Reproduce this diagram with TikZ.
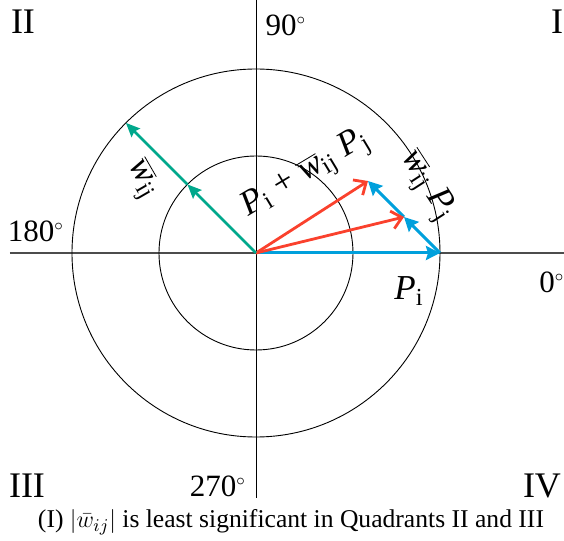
\documentclass[tikz,border=0pt]{standalone}
\usepackage{fontspec}
\setmainfont{Liberation Serif}
\usetikzlibrary{arrows.meta}

\definecolor{vecblue}{RGB}{0,160,220}
\definecolor{vecred}{RGB}{250,65,45}
\definecolor{vecgreen}{RGB}{0,168,140}

\newcommand{\wbar}{$\overline{\mbox{\textit{w}}}$}
\newcommand{\degsign}{$^{\scriptscriptstyle\circ}$}

\begin{document}
\begin{tikzpicture}[
  x=0.5pt, y=0.5pt, >=Stealth, every node/.style={inner sep=0pt},
  axis/.style={draw=black!70, line width=0.75pt},
  ring/.style={draw=black, line width=0.45pt},
  bvec/.style={draw=vecblue, line width=1.5pt,
               -{Stealth[length=7pt, width=7pt, inset=1pt]}},
  rvec/.style={draw=vecred, line width=1.4pt,
               -{Straight Barb[length=5pt, width=9pt]}},
  gvec/.style={draw=vecgreen, line width=1.3pt,
               -{Stealth[length=7pt, width=6pt, inset=1pt]}},
  quad/.style={font=\fontsize{18}{18}\selectfont},
  ang/.style={font=\fontsize{15.5}{15.5}\selectfont},
  lbl/.style={font=\fontsize{17.5}{17.5}\selectfont},
]
\useasboundingbox (-256,-288) rectangle (308,253);

% axes and circles
\coordinate (O) at (0,0);
\draw[axis] (-246,0) -- (308,0);
\draw[ring] (0,253) -- (0,-245);
\draw[ring] (O) circle (184);
\draw[ring] (O) circle (97);

% points of the vectors
\coordinate (Pi) at (184,0);
\coordinate (M) at (148,36);
\coordinate (S) at (112,72);
\coordinate (G1) at (-68.6,68.6);
\coordinate (G2) at (-130.1,130.1);

\draw[bvec] (O) -- (Pi);
\draw[bvec] (Pi) -- (M);
\draw[bvec] (M) -- (S);
\draw[rvec] (O) -- (M);
\draw[rvec] (O) -- (S);
\draw[gvec] (O) -- (G1);
\draw[gvec] (G1) -- (G2);

% vector labels
\node[lbl] (lPi) at (153,-38) {\textit{P}\textsubscript{i}};
\node[lbl, rotate=31] (lsum) at (50,79)
  {\textit{P}\textsubscript{i} + \wbar\textsubscript{ij} \textit{P}\textsubscript{j}};
\node[lbl, rotate=-57] (lwp) at (171,67) {\wbar\textsubscript{ij} \textit{P}\textsubscript{j}};
\node[lbl, rotate=-60] (lw) at (-114,73) {\wbar\textsubscript{ij}};

% quadrants and angles
\node[quad] (q2) at (-233,231) {II};
\node[quad] (q1) at (301,231) {I};
\node[quad] (q3) at (-229,-233) {III};
\node[quad] (q4) at (286,-233) {IV};
\node[ang] (a90) at (30,228) {90\degsign};
\node[ang] (a180) at (-220,22) {180\degsign};
\node[ang] (a0) at (296,-29) {0\degsign};
\node[ang] (a270) at (-38,-233) {270\degsign};

\node[font=\fontsize{12.8}{12.8}\selectfont] (cap) at (35,-269)
  {(I) $|\bar{w}_{ij}|$ is least significant in Quadrants II and III};
\end{tikzpicture}
\end{document}
